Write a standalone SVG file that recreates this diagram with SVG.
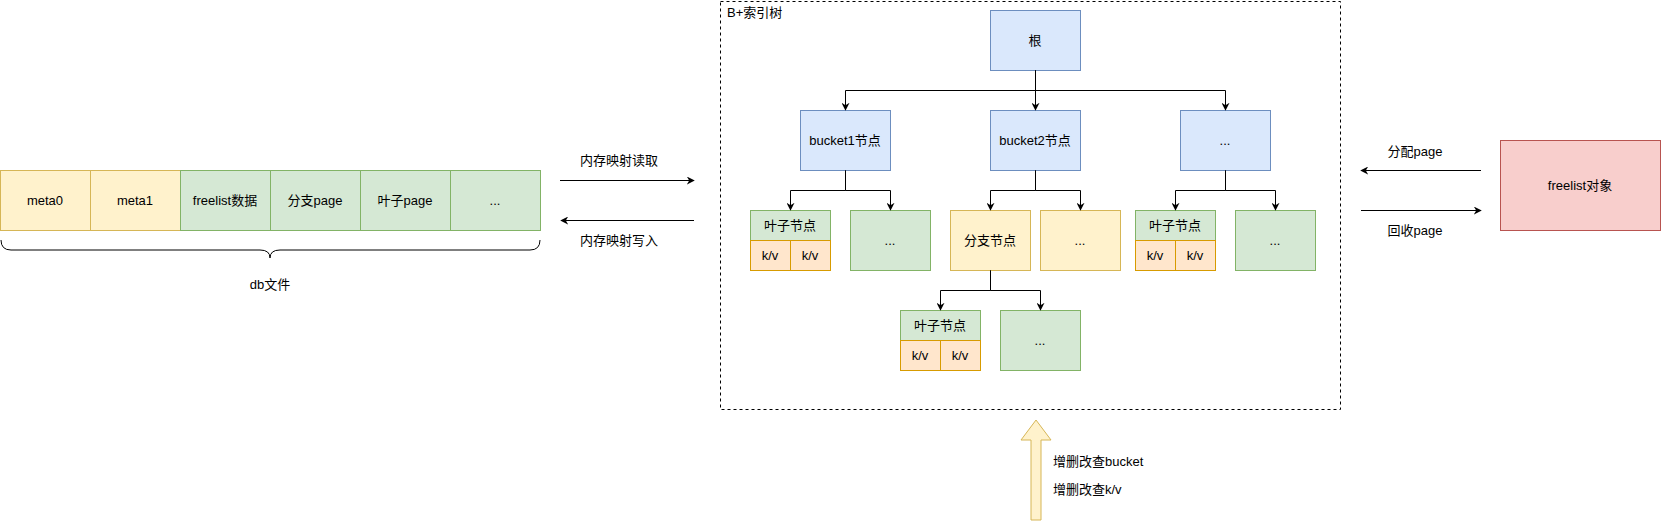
<svg xmlns="http://www.w3.org/2000/svg" width="1661" height="521" viewBox="0 0 1661 521">
<defs>
<style>
text{font-family:"Liberation Sans","Noto Sans CJK SC",sans-serif;font-size:13px;fill:#000;}
.c{text-anchor:middle;dominant-baseline:central;}
.l{text-anchor:start;dominant-baseline:central;}
.blue{fill:#dae8fc;stroke:#6c8ebf;stroke-width:1;}
.green{fill:#d5e8d4;stroke:#82b366;stroke-width:1;}
.yellow{fill:#fff2cc;stroke:#d6b656;stroke-width:1;}
.orange{fill:#ffe6cc;stroke:#d79b00;stroke-width:1;}
.red{fill:#f8cecc;stroke:#b85450;stroke-width:1;}
.edge{fill:none;stroke:#000;stroke-width:1;marker-end:url(#arr);}
</style>
<marker id="arr" viewBox="0 0 10 10" refX="9" refY="5" markerWidth="8" markerHeight="8" markerUnits="userSpaceOnUse" orient="auto">
<path d="M0,0 L10,5 L0,10 L3,5 z" fill="#000"/>
</marker>
</defs>
<rect width="1661" height="521" fill="#fff"/>

<g id="dbfile">
<rect class="yellow" x="0.5" y="170.5" width="90" height="60"/>
<text class="c" x="45" y="200">meta0</text>
<rect class="yellow" x="90.5" y="170.5" width="90" height="60"/>
<text class="c" x="135" y="200">meta1</text>
<rect class="green" x="180.5" y="170.5" width="90" height="60"/>
<text class="c" x="225" y="200">freelist数据</text>
<rect class="green" x="270.5" y="170.5" width="90" height="60"/>
<text class="c" x="315" y="200">分支page</text>
<rect class="green" x="360.5" y="170.5" width="90" height="60"/>
<text class="c" x="405" y="200">叶子page</text>
<rect class="green" x="450.5" y="170.5" width="90" height="60"/>
<text class="c" x="495" y="200">...</text>
</g>

<g id="brace">
<path d="M1,240 Q1,250 11,250 L260,250 Q270,250 270,258 Q270,250 280,250 L530,250 Q540,250 540,240" fill="none" stroke="#000" stroke-width="1"/>
<text class="c" x="270" y="284">db文件</text>
</g>

<g id="container">
<rect x="720.5" y="1.5" width="620" height="408" fill="none" stroke="#000" stroke-width="1" stroke-dasharray="3 3"/>
<text class="l" x="727" y="12">B+索引树</text>
</g>

<g id="root">
<rect class="blue" x="990.5" y="10.5" width="90" height="60"/>
<text class="c" x="1035" y="40">根</text>
</g>
<g id="bucket1">
<rect class="blue" x="800.5" y="110.5" width="90" height="60"/>
<text class="c" x="845" y="140">bucket1节点</text>
</g>
<g id="bucket2">
<rect class="blue" x="990.5" y="110.5" width="90" height="60"/>
<text class="c" x="1035" y="140">bucket2节点</text>
</g>
<g id="bucket3">
<rect class="blue" x="1180.5" y="110.5" width="90" height="60"/>
<text class="c" x="1225" y="140">...</text>
</g>

<g id="leaf1">
<rect class="green" x="750.5" y="210.5" width="80" height="30"/>
<text class="c" x="790" y="225">叶子节点</text>
<rect class="orange" x="750.5" y="240.5" width="40" height="30"/>
<text class="c" x="770" y="255">k/v</text>
<rect class="orange" x="790.5" y="240.5" width="40" height="30"/>
<text class="c" x="810" y="255">k/v</text>
</g>
<g id="more1">
<rect class="green" x="850.5" y="210.5" width="80" height="60"/>
<text class="c" x="890" y="240">...</text>
</g>
<g id="branch">
<rect class="yellow" x="950.5" y="210.5" width="80" height="60"/>
<text class="c" x="990" y="240">分支节点</text>
</g>
<g id="more2">
<rect class="yellow" x="1040.5" y="210.5" width="80" height="60"/>
<text class="c" x="1080" y="240">...</text>
</g>
<g id="leaf3">
<rect class="green" x="1135.5" y="210.5" width="80" height="30"/>
<text class="c" x="1175" y="225">叶子节点</text>
<rect class="orange" x="1135.5" y="240.5" width="40" height="30"/>
<text class="c" x="1155" y="255">k/v</text>
<rect class="orange" x="1175.5" y="240.5" width="40" height="30"/>
<text class="c" x="1195" y="255">k/v</text>
</g>
<g id="more3">
<rect class="green" x="1235.5" y="210.5" width="80" height="60"/>
<text class="c" x="1275" y="240">...</text>
</g>
<g id="leaf2">
<rect class="green" x="900.5" y="310.5" width="80" height="30"/>
<text class="c" x="940" y="325">叶子节点</text>
<rect class="orange" x="900.5" y="340.5" width="40" height="30"/>
<text class="c" x="920" y="355">k/v</text>
<rect class="orange" x="940.5" y="340.5" width="40" height="30"/>
<text class="c" x="960" y="355">k/v</text>
</g>
<g id="more4">
<rect class="green" x="1000.5" y="310.5" width="80" height="60"/>
<text class="c" x="1040" y="340">...</text>
</g>

<g id="freelist">
<rect class="red" x="1500.5" y="140.5" width="160" height="90"/>
<text class="c" x="1580" y="185">freelist对象</text>
</g>

<g id="connectors">
<path class="edge" d="M1035.5,70.5 V90.5 H845.5 V110"/>
<path class="edge" d="M1035.5,70.5 V110"/>
<path class="edge" d="M1035.5,70.5 V90.5 H1225.5 V110"/>
<path class="edge" d="M845.5,170.5 V190.5 H790.5 V210"/>
<path class="edge" d="M845.5,170.5 V190.5 H890.5 V210"/>
<path class="edge" d="M1035.5,170.5 V190.5 H990.5 V210"/>
<path class="edge" d="M1035.5,170.5 V190.5 H1080.5 V210"/>
<path class="edge" d="M1225.5,170.5 V190.5 H1175.5 V210"/>
<path class="edge" d="M1225.5,170.5 V190.5 H1275.5 V210"/>
<path class="edge" d="M990.5,270.5 V290.5 H940.5 V310"/>
<path class="edge" d="M990.5,270.5 V290.5 H1040.5 V310"/>
<path class="edge" d="M560,180.5 H694"/>
<path class="edge" d="M694,220.5 H561"/>
<path class="edge" d="M1481,170.5 H1361"/>
<path class="edge" d="M1361,210.5 H1481"/>
<text class="c" x="619" y="160">内存映射读取</text>
<text class="c" x="619" y="240">内存映射写入</text>
<text class="c" x="1415" y="151">分配page</text>
<text class="c" x="1415" y="230">回收page</text>
<path d="M1036,420 L1051,440 L1041,440 L1041,520 L1031,520 L1031,440 L1021,440 Z" fill="#fff2cc" stroke="#d6b656" stroke-width="1"/>
<text class="l" x="1053" y="461">增删改查bucket</text>
<text class="l" x="1053" y="489">增删改查k/v</text>
</g>
</svg>
